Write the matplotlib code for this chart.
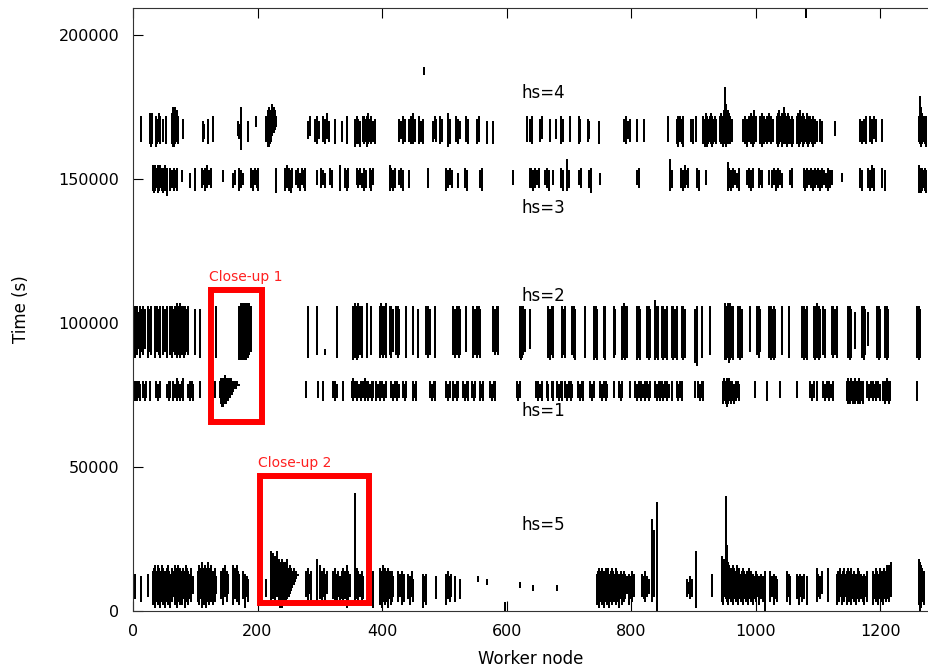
import matplotlib
matplotlib.use("Agg")
import matplotlib.pyplot as plt
from matplotlib.patches import Rectangle

# busy periods per worker node: (node, start, end), times in 1000 s
hs4 = [(13,163,172),(27,162,173),(29,161,172),(31,162,173),
    (37,161,172),(39,162,171),(41,163,173),(43,162,172),(48,163,171),(53,162,172),
    (62,162,173),(64,161,175),(66,161,174),(68,162,175),(70,163,174),(72,162,172),
    (80,164,171),(112,163,170),(114,164,169),(120,162,171),(128,163,172),
    (169,165,170),(171,164,169),(174,160,175),(185,163,170),(198,168,172),
    (214,163,172),(216,161,174),(218,161,175),(220,162,173),(222,163,174),(224,165,176),
    (226,166,175),(228,167,174),(230,168,172),
    (281,164,170),(284,165,172),(292,163,171),(295,162,172),(298,164,170),
    (305,163,172),(308,162,171),(311,164,173),(314,163,170),(324,162,171),(335,163,170),
    (343,162,172),(356,161,171),(359,162,172),(362,162,171),(365,161,170),
    (369,163,172),(371,162,172),(373,163,171),(375,161,172),(377,162,173),(380,163,171),
    (383,162,172),(386,163,170),(389,162,171),
    (428,163,171),(431,164,170),(434,162,172),(437,163,171),
    (444,163,171),(447,162,172),(450,162,173),(453,163,171),
    (460,162,172),(463,163,170),(466,162,171),(482,163,170),(485,164,172),(487,163,171),
    (493,162,172),(496,163,171),(506,161,173),(509,162,171),
    (519,163,172),(522,162,171),(525,164,170),(535,163,172),(538,162,171),
    (552,162,171),(555,163,172),(568,162,170),(578,162,170),(632,163,172),
    (638,163,171),(641,162,172),(654,163,171),(657,164,172),(670,163,171),(679,164,171),
    (687,162,172),(690,163,171),(702,163,172),(716,162,172),(718,163,171),
    (730,163,171),(733,164,170),(748,162,170),
    (789,163,171),(792,162,172),(795,164,170),(798,163,171),(809,163,171),(820,163,171),
    (860,163,172),(873,162,171),(876,161,172),(879,163,172),(882,162,171),(884,161,172),
    (896,163,171),(900,162,171),(904,163,172),
    (916,162,172),(918,161,171),(920,162,173),(922,161,172),(924,162,171),(926,163,172),
    (928,162,173),(930,161,172),(932,162,171),(934,163,172),(936,162,171),
    (943,163,172),(945,162,173),(947,161,172),(949,163,174),(951,162,182),(953,161,176),
    (955,162,174),(957,163,173),(959,162,172),(962,163,171),
    (980,163,171),(983,162,172),(986,161,171),(989,163,172),(992,162,173),(995,161,172),
    (998,162,174),(1001,163,172),
    (1007,162,172),(1010,161,173),(1013,162,172),(1016,163,171),(1019,162,172),
    (1022,163,173),(1025,162,172),(1028,163,171),
    (1034,162,172),(1036,161,173),(1038,162,174),(1040,163,172),(1042,161,173),
    (1044,162,172),(1046,163,175),(1048,162,173),(1050,161,172),(1052,162,173),
    (1054,163,172),(1056,162,171),(1058,161,172),(1060,162,171),
    (1066,162,172),(1068,163,173),(1070,161,172),(1072,162,174),(1074,163,172),
    (1076,161,173),(1078,162,172),(1080,163,171),(1082,162,173),(1084,161,172),
    (1086,162,171),(1088,163,172),(1090,162,171),(1092,161,172),(1095,162,171),(1098,163,170),
    (1104,163,171),(1107,162,170),(1128,165,170),
    (1168,163,171),(1171,162,170),(1174,163,171),(1177,162,172),
    (1184,163,172),(1187,162,171),(1190,164,172),(1193,163,171),(1203,163,171),
    (1262,163,172),(1264,162,179),(1266,161,175),(1268,162,173),(1270,163,172),
    (1272,162,171),(1274,161,172)]

hs3 = [(32,146,155),(34,145,154),(36,146,155),(38,147,154),(40,145,155),(42,146,154),
    (44,147,155),(46,146,154),(48,145,153),(50,147,154),(52,146,155),(54,144,154),
    (59,146,154),(62,147,153),(65,146,154),(68,147,153),(70,146,154),(78,149,153),
    (91,147,152),(99,146,154),
    (110,147,154),(113,148,153),(116,146,154),(119,147,155),(122,148,153),(125,147,154),
    (145,149,153),(161,147,152),(163,148,153),(171,146,154),(174,147,153),(177,148,152),
    (190,147,154),(193,146,153),(196,148,154),(199,147,153),(201,146,154),(230,145,154),
    (244,146,154),(247,147,155),(250,146,154),(253,145,153),(256,147,154),
    (262,148,153),(265,147,154),(268,146,152),(271,148,154),(274,147,153),(277,146,154),
    (295,148,153),(302,147,154),(305,148,153),(308,147,152),(316,148,154),(319,147,153),
    (332,146,155),(340,147,154),(343,146,153),(346,147,154),
    (359,148,154),(362,147,153),(365,148,154),(368,147,152),(371,146,154),(374,147,153),
    (380,147,154),(383,146,153),(386,148,154),
    (412,146,155),(415,147,154),(418,146,153),(421,147,154),
    (428,148,153),(431,147,154),(434,146,153),(444,147,153),(474,147,154),
    (503,146,154),(506,147,153),(509,148,154),(512,147,153),(522,147,152),
    (533,147,154),(536,146,153),(557,147,153),(560,146,154),(610,148,153),(637,147,154),
    (640,147,154),(643,146,153),(646,147,154),(649,148,153),(652,147,154),
    (662,148,153),(665,147,154),(668,146,153),(675,148,153),(687,147,154),(690,146,153),
    (697,146,157),(700,147,153),(716,148,153),(719,147,154),(733,147,153),(736,145,154),
    (750,148,152),(810,148,153),(813,147,154),(863,146,157),(865,147,153),
    (880,147,154),(883,146,153),(886,147,155),(889,148,153),(892,147,154),
    (906,147,154),(909,146,153),(920,148,153),
    (955,146,156),(958,147,154),(961,146,153),(964,147,154),(967,148,153),(970,147,152),
    (973,146,154),(986,148,153),(989,147,154),(992,146,153),(995,147,154),
    (1005,147,154),(1008,148,153),(1011,147,153),(1021,148,153),
    (1027,147,153),(1030,148,154),(1033,146,153),(1036,147,154),(1039,148,153),(1042,147,152),
    (1056,148,153),(1059,147,154),
    (1077,147,154),(1080,146,153),(1083,147,154),(1086,148,153),(1089,147,154),
    (1092,146,153),(1095,147,154),(1098,148,153),(1101,147,154),(1104,146,153),
    (1107,147,154),(1110,148,153),(1113,147,152),(1116,146,154),(1119,147,153),(1122,148,153),
    (1138,149,152),(1168,147,154),(1171,146,153),
    (1181,147,154),(1184,146,153),(1187,147,155),(1190,146,154),(1203,147,154),(1208,146,153),
    (1262,145,155),(1264,146,154),(1266,145,153),(1268,146,154),(1270,147,153),
    (1272,146,154),(1274,145,153)]

hs2 = [(3,88,106),(5,90,105),(7,89,106),(9,91,104),(11,88,106),
    (13,90,105),(16,89,106),(19,91,105),(24,88,106),(27,90,105),(29,89,106),
    (35,88,106),(38,90,106),(41,89,105),(43,88,106),(48,89,106),(51,90,105),(54,88,106),
    (59,89,106),(62,88,106),(65,90,105),(67,89,106),
    (70,88,107),(72,89,106),(74,90,106),(76,88,107),(78,89,106),(80,90,105),(82,88,106),
    (84,89,106),(86,90,105),(88,89,106),(99,89,105),(107,88,105),(134,88,106),
    (171,87,106),(173,87,107),(175,87,107),(177,87,107),(179,87,107),(181,87,107),
    (183,88,107),(185,88,107),(187,89,107),(189,90,106),
    (281,88,106),(295,89,106),(308,89,91),(327,88,106),
    (353,87,106),(356,88,107),(359,87,106),(362,88,107),(365,89,106),(368,88,106),
    (375,88,107),(383,89,106),
    (396,88,106),(399,89,107),(402,88,106),(405,89,106),(407,88,107),
    (412,89,106),(415,88,106),(418,90,105),(423,89,106),(426,88,106),(428,89,105),
    (439,88,106),(450,89,106),(458,88,105),(471,89,106),(474,88,106),(477,89,105),
    (485,88,106),(514,89,106),(517,88,105),(520,89,106),(523,88,106),(525,89,105),
    (535,90,106),(546,88,106),(549,89,105),(552,88,106),(555,89,106),(557,88,105),
    (578,90,106),(581,89,105),(584,90,106),(586,89,106),
    (621,88,106),(623,87,105),(625,88,106),(627,89,106),(629,90,105),(638,91,105),
    (667,88,106),(670,87,105),(673,89,106),(675,88,106),(689,88,106),(692,89,105),(694,88,106),
    (705,89,106),(708,88,106),(710,87,105),(726,88,106),(740,87,106),(743,88,106),(745,87,105),
    (756,88,106),(758,87,106),(772,88,106),(774,89,105),
    (785,87,106),(788,88,107),(791,87,106),(793,88,106),(809,87,106),(812,88,106),(815,87,105),
    (825,88,106),(828,87,106),(831,88,105),(839,87,108),(841,88,106),(844,87,106),
    (849,88,106),(852,87,106),(855,88,105),(857,87,106),
    (865,88,106),(868,87,106),(871,88,105),(873,87,106),(881,88,106),(884,87,106),(887,88,105),
    (903,86,105),(906,85,106),(914,88,106),(927,89,106),
    (951,87,107),(953,87,106),(955,88,107),(957,86,106),(959,87,107),(961,88,106),
    (963,87,106),(964,88,105),(972,88,106),(975,87,106),(978,88,105),(991,90,106),
    (1002,89,106),(1005,88,106),(1007,90,105),
    (1021,88,106),(1024,87,106),(1027,88,105),(1029,87,106),(1031,88,105),(1042,89,106),
    (1053,88,106),(1074,88,106),(1077,87,106),(1080,88,105),(1082,87,106),
    (1093,88,106),(1096,87,106),(1099,88,107),(1102,87,106),(1104,88,105),(1109,89,106),
    (1112,88,105),(1122,89,106),(1125,88,106),(1128,89,105),(1130,88,106),
    (1149,88,106),(1152,87,106),(1154,88,105),(1160,91,104),
    (1171,88,106),(1174,87,106),(1176,89,105),(1181,92,104),
    (1195,88,106),(1198,87,106),(1200,88,105),(1208,88,106),(1211,87,106),(1213,88,105),
    (1259,88,106),(1262,87,106),(1264,88,105)]

hs1 = [(3,73,80),(5,74,79),(7,73,80),(9,74,80),(11,73,79),(16,74,80),(19,73,79),(21,74,80),
    (27,73,80),(37,74,80),(40,73,79),(43,74,80),(54,74,79),(57,73,80),(59,74,80),
    (64,73,80),(67,74,79),(70,73,81),(73,74,80),(76,73,79),(78,74,80),(80,73,81),
    (88,74,79),(91,73,80),(94,74,80),(96,73,79),(107,74,80),
    (123,73,80),(126,74,79),(129,73,80),(131,74,80),
    (139,74,80),(141,72,81),(143,71,81),(145,71,81),(147,72,82),(149,72,81),(151,73,81),
    (153,73,81),(155,74,81),(157,75,81),(159,75,80),(161,76,80),(163,77,80),(165,77,80),
    (167,78,80),(169,78,79),(171,78,79),
    (278,74,80),(297,74,80),(305,73,80),(321,74,80),(324,73,80),(327,74,79),(337,73,80),
    (351,74,80),(354,73,81),(357,74,80),(360,73,80),(363,74,79),(366,73,80),(369,74,80),
    (372,73,81),(375,74,80),(378,73,80),(381,74,79),(384,73,80),(386,74,80),
    (391,73,80),(394,74,79),(397,73,80),(400,74,80),(403,73,79),(407,74,80),
    (415,74,80),(418,73,79),(421,74,80),(424,73,80),(428,74,79),(434,74,80),(437,73,79),(439,74,80),
    (450,73,80),(453,74,79),(455,73,80),(477,74,80),(480,73,79),(483,74,80),(485,73,80),
    (503,74,80),(506,73,79),(509,74,80),(514,73,80),(517,74,79),(520,73,80),(522,74,80),
    (530,74,80),(533,73,79),(536,74,80),(538,73,80),(544,74,80),(547,73,79),(549,74,80),
    (557,73,80),(560,74,79),(562,73,80),(573,74,80),(576,73,79),(579,74,80),(581,73,80),
    (616,74,80),(619,73,79),(621,74,80),(648,74,80),(651,73,80),(654,74,79),(657,73,80),
    (665,74,80),(667,73,79),(673,74,80),(675,73,80),(681,74,80),(684,73,79),(687,74,80),(689,73,80),
    (694,74,80),(697,73,79),(700,74,80),(703,73,80),(705,74,79),
    (715,74,80),(718,73,79),(721,74,80),(723,73,80),(734,74,80),(737,73,79),(740,74,80),
    (750,74,80),(753,73,79),(756,74,80),(759,73,80),(761,74,79),(772,74,80),
    (780,74,80),(783,73,79),(785,74,80),(798,74,80),
    (807,74,80),(810,73,79),(813,74,80),(816,73,80),(819,74,79),(822,73,80),(825,74,80),
    (828,73,79),(831,74,80),(839,74,80),(842,73,79),(845,74,80),(847,73,80),
    (849,74,80),(852,73,79),(855,74,80),(858,73,80),(861,74,79),(865,73,80),
    (873,74,80),(876,73,79),(879,74,80),(881,73,80),(903,74,80),
    (908,74,80),(911,73,79),(914,74,80),(916,73,80),
    (948,72,80),(950,73,81),(952,72,80),(954,71,81),(956,72,80),(958,73,81),(960,72,80),
    (962,73,80),(965,72,79),(968,73,80),(971,74,80),(974,73,79),
    (999,74,80),(1018,73,80),(1039,74,80),(1066,74,80),
    (1088,74,80),(1091,73,79),(1094,74,80),(1098,73,80),
    (1109,74,80),(1112,73,79),(1115,74,80),(1118,73,80),(1121,74,79),(1125,73,80),
    (1146,73,80),(1148,72,81),(1150,73,80),(1152,72,80),(1154,73,81),(1156,72,80),
    (1158,73,80),(1160,72,81),(1162,73,80),(1164,72,80),(1166,73,81),(1168,72,80),
    (1170,73,80),(1173,72,80),
    (1179,74,80),(1182,73,79),(1185,74,80),(1188,73,80),(1191,74,79),(1194,73,80),
    (1197,74,80),(1200,73,79),(1205,73,80),(1208,72,80),(1211,73,81),(1214,72,80),
    (1216,73,80),(1259,73,80)]

hs5 = [(3,4,13),(13,3,12),(24,5,13),
    (32,2,14),(34,4,15),(36,1,16),(38,3,14),(40,2,16),(42,5,15),(44,1,14),(46,3,16),
    (48,2,15),(50,4,13),(52,1,14),(54,3,15),(56,2,16),(58,4,14),(60,1,13),(62,3,15),(64,5,14),
    (67,2,16),(69,4,15),(71,1,14),(73,3,16),(75,2,15),(77,5,14),(79,2,13),(81,4,15),
    (83,1,14),(85,3,16),(87,5,15),(89,2,14),(91,4,13),(93,3,15),(96,6,12),
    (104,3,14),(106,2,16),(108,4,15),(110,1,17),(112,3,14),(114,2,15),(116,4,16),
    (118,1,15),(120,3,17),(122,2,14),(124,4,15),(126,3,16),(128,2,14),(130,5,13),
    (132,3,15),(134,6,12),(142,4,14),(145,2,15),(148,5,16),(151,3,14),(153,6,13),
    (161,2,16),(164,4,15),(167,3,16),(169,5,14),(171,2,13),
    (177,4,14),(180,1,13),(183,5,12),(185,3,11),(214,5,11),
    (222,2,21),(225,4,20),(228,3,19),(231,5,21),(234,3,18),(236,1,17),
    (238,2,16),(240,1,18),(242,2,17),(244,2,16),(246,3,17),(248,4,18),(250,5,15),
    (252,6,16),(254,7,15),(256,8,14),(258,9,15),(260,10,14),(262,11,14),(265,12,13),
    (278,5,14),(281,2,15),(284,6,13),(286,3,14),(295,2,18),
    (300,4,16),(303,3,14),(306,5,15),(309,2,13),(311,6,14),
    (321,4,14),(324,3,15),(327,2,13),(330,5,14),(333,3,12),(335,4,14),
    (337,2,15),(340,4,14),(343,1,16),(346,3,14),(348,5,13),(356,2,34),(357,15,41),
    (359,4,15),(362,2,14),(365,5,13),(367,3,14),(369,4,12),(386,1,14),
    (396,2,15),(398,4,14),(400,1,13),(402,3,16),(404,2,15),(406,5,14),(408,3,13),
    (410,1,15),(412,4,14),(414,2,13),(416,3,14),(418,5,12),
    (426,3,14),(429,5,13),(432,2,14),(434,4,12),(436,3,13),
    (442,4,13),(445,2,12),(448,5,14),(450,3,11),(466,1,13),(469,3,12),(471,2,13),
    (487,4,12),(503,2,13),(506,4,14),(509,3,12),(511,5,13),(517,3,12),(525,4,11),
    (554,10,12),(568,9,11),(597,0,3),(621,8,10),(643,7,9),(681,7,9),
    (745,2,13),(747,4,14),(749,1,15),(751,3,14),(753,2,15),(755,4,13),(757,1,14),
    (759,3,15),(761,2,14),(763,4,15),(765,1,13),(767,3,14),(769,2,15),(771,4,14),
    (773,3,13),(775,2,15),(777,4,14),(779,3,12),(781,1,13),(783,4,14),(785,2,13),
    (787,5,12),(789,3,14),(791,4,13),(793,6,12),(796,2,13),(799,4,12),(802,3,14),(804,5,13),
    (817,5,13),(820,4,12),(822,3,14),(825,5,12),(828,6,11),
    (833,3,32),(836,5,28),(841,0,38),(842,0,37),
    (889,5,11),(892,6,10),(895,4,12),(898,5,11),(904,1,21),(930,5,13),
    (946,3,19),(948,2,16),(950,5,18),(952,4,40),(954,3,23),(956,2,17),(958,4,16),
    (960,3,15),(962,5,14),(964,2,16),(966,4,15),(968,3,14),(970,5,16),(972,2,14),
    (974,4,15),(976,3,13),(978,5,14),(980,2,15),(982,4,14),(984,3,13),(986,5,14),
    (988,2,13),(990,4,15),(992,3,14),(994,5,12),(996,2,13),(998,4,12),(1000,3,14),
    (1003,5,13),(1006,2,12),(1009,4,13),(1012,3,12),(1015,0,14),
    (1023,3,14),(1026,5,12),(1029,2,13),(1032,4,12),(1034,3,11),
    (1050,3,14),(1053,5,13),(1056,2,12),
    (1066,4,13),(1069,2,12),(1072,5,13),(1075,3,12),(1078,4,13),(1082,2,12),
    (1098,3,15),(1101,5,13),(1104,4,12),(1106,6,14),(1117,3,15),
    (1130,2,13),(1132,4,14),(1134,3,12),(1136,5,15),(1138,2,13),(1140,4,14),(1142,3,15),
    (1144,5,13),(1146,2,14),(1148,4,15),(1150,3,13),(1152,5,14),(1154,2,15),(1156,4,13),
    (1158,3,14),(1160,5,12),(1162,2,13),(1164,4,15),(1166,3,14),(1168,5,12),(1170,4,13),
    (1172,3,12),(1174,2,13),(1177,5,12),(1179,3,14),
    (1189,2,14),(1191,4,13),(1193,3,15),(1195,5,14),(1197,2,13),(1199,4,15),(1201,3,14),
    (1203,5,13),(1205,2,14),(1207,4,15),(1209,3,14),(1211,5,16),(1213,4,15),(1215,3,16),
    (1217,5,17),(1262,2,18),(1264,0,17),(1266,1,16),(1268,3,15),(1270,2,14)]

stray = [(467,186,189),(1081,206,209)]

labels = ["hs=4", "hs=3", "hs=2", "hs=1", "hs=5"]
label_y = [180, 140, 109.5, 69.5, 30]  # 1000 s

# close-up boxes: (node from, node to, time from, time to)
closeups = [("Close-up 1", 125, 207, 65.6, 111.6),
            ("Close-up 2", 204, 379, 2.8, 47.0)]

fig = plt.figure(figsize=(9.29, 6.71), dpi=100)
ax = fig.add_axes([0.1432, 0.0894, 0.8558, 0.8987])

for band in [hs4, hs3, hs2, hs1, hs5, stray]:
    xs = [b[0] for b in band]
    lo = [b[1] * 1000 for b in band]
    hi = [b[2] * 1000 for b in band]
    ax.vlines(xs, lo, hi, colors="black", linewidth=1.1, antialiased=False)

for name, x0, x1, y0, y1 in closeups:
    ax.add_patch(Rectangle((x0, y0 * 1000), x1 - x0, (y1 - y0) * 1000,
                           fill=False, edgecolor="#ff0000", linewidth=4.3, zorder=3))
    ax.text(x0 - 3, y1 * 1000 + 4500, name, color="#ff2020", fontsize=10,
            ha="left", va="center")

for lab, yy in zip(labels, label_y):
    ax.text(624, yy * 1000, lab, fontsize=12, ha="left", va="center")

ax.set_xlim(0, 1277)
ax.set_ylim(0, 209400)
ax.set_xticks([0, 200, 400, 600, 800, 1000, 1200])
ax.set_yticks([0, 50000, 100000, 150000, 200000])
ax.tick_params(direction="in", length=7, width=0.8, labelsize=11.5, pad=9,
               top=True, right=False)
ax.tick_params(axis="y", pad=10)
ax.spines["right"].set_visible(False)
for s in ["left", "bottom", "top"]:
    ax.spines[s].set_linewidth(0.8)
    ax.spines[s].set_color("#333333")
ax.set_xlabel("Worker node", fontsize=12, labelpad=8)
ax.set_ylabel("Time (s)", fontsize=12, labelpad=20)

fig.savefig("out.png", dpi=100)
